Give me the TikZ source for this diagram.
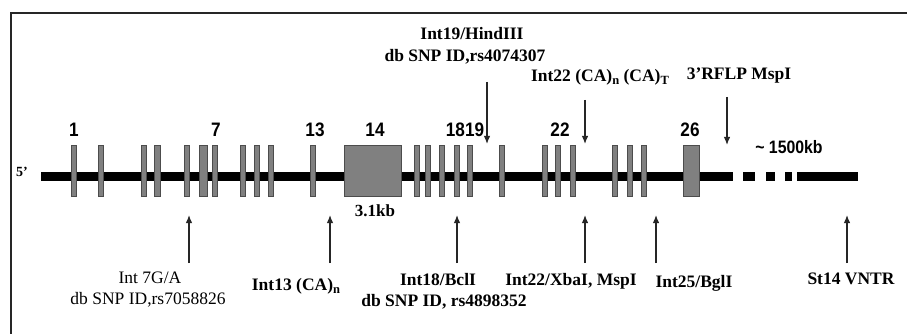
\documentclass[tikz,border=0pt]{standalone}
\usepackage{fontspec}
\setmainfont{Liberation Serif}
\newfontfamily\numfont[FakeStretch=0.88]{Liberation Sans}
\usetikzlibrary{arrows.meta}
\newcommand\sbs[1]{\raisebox{-0.45ex}{\fontsize{12.5}{12.5}\selectfont\bfseries #1}}
\tikzset{
  exon/.style={draw=black!70, fill=black!50, line width=0.8pt},
  lbl/.style={inner sep=0pt, font=\fontsize{17.5}{17.5}\selectfont\bfseries},
  lblr/.style={inner sep=0pt, font=\fontsize{17.5}{17.5}\selectfont},
  num/.style={inner sep=0pt, font=\numfont\fontsize{19.5}{19.5}\selectfont\bfseries},
  arr/.style={draw=black!85, line width=1.3pt, -{Latex[length=8pt,width=6.5pt]}},
}
\begin{document}
\begin{tikzpicture}[x=1pt,y=-1pt]
\useasboundingbox (0,0) rectangle (907,334);
\fill[white] (0,0) rectangle (907,334);
% frame
\draw[line width=2pt, black!85] (11,336) -- (11,13.5) -- (909,13.5);
% gene line
\draw[line width=9pt] (41,176.3) -- (733,176.3);
\foreach \a/\b in {743/755, 766/775, 785/792, 797/858}
  \draw[line width=9pt] (\a,176.3) -- (\b,176.3);
% exons
\foreach \x in {74,101,144,187,215,243,257,271,313,417,428,442,457,470,502,545,558,573,615,630,644}
  \draw[exon] (\x-2.3,145) rectangle (\x+2.3,196);
\draw[exon] (154,145) rectangle (160,196);
\draw[exon] (199,145) rectangle (207,196);
\draw[exon] (344,145) rectangle (401,196);
\draw[exon] (683,145) rectangle (699,196);
% exon numbers
\node[num] (n1) at (74,130) {1};
\node[num] (n7) at (216,130) {7};
\node[num] (n13) at (315,130) {13};
\node[num] (n14) at (375,130) {14};
\node[num] (n1819) at (465,130) {1819};
\node[num] (n22) at (560,130) {22};
\node[num] (n26) at (690,130) {26};
\node[inner sep=0pt, font=\fontsize{14}{14}\selectfont\bfseries] (five) at (22,172) {5'};
\node[inner sep=0pt, font=\numfont\fontsize{18}{18}\selectfont\bfseries] (kb1500) at (789,147) {\textasciitilde\ 1500kb};
\node[inner sep=0pt, font=\fontsize{17}{17}\selectfont\bfseries] (kb31) at (375,211) {3.1kb};
% top labels
\node[lbl] (t19a) at (472,34) {Int19/HindIII};
\node[lbl] (t19b) at (465,57) {db SNP ID,rs4074307};
\node[lbl] (t22) at (600,77) {Int22 (CA)\sbs{n} (CA)\sbs{T}};
\node[lbl] (trflp) at (739,76) {3'RFLP MspI};
% top arrow coordinates
\coordinate (a19s) at (487,82);  \coordinate (a19e) at (487,144);
\coordinate (a22s) at (585,100); \coordinate (a22e) at (585,144);
\coordinate (arfs) at (727,97);  \coordinate (arfe) at (727,145);
\draw[arr] (a19s) -- (a19e);
\draw[arr] (a22s) -- (a22e);
\draw[arr] (arfs) -- (arfe);
% bottom labels
\node[lblr] (b7a) at (150,278) {Int 7G/A};
\node[lblr] (b7b) at (148,300) {db SNP ID,rs7058826};
\node[lbl] (b13) at (296,286) {Int13 (CA)\sbs{n}};
\node[lbl] (b18a) at (438,280) {Int18/BclI};
\node[lbl] (b18b) at (444,302) {db SNP ID, rs4898352};
\node[lbl] (b22) at (571,281) {Int22/XbaI, MspI};
\node[lbl] (b25) at (694,283) {Int25/BglI};
\node[lbl] (bst) at (851,279) {St14 VNTR};
% bottom arrows
\foreach \n/\x in {p7/189, p13/330, p18/457, p22/585, p25/656, pst/847}{
  \coordinate (\n s) at (\x,263);
  \coordinate (\n e) at (\x,215);
  \draw[arr] (\n s) -- (\n e);
}
\end{tikzpicture}
\end{document}
